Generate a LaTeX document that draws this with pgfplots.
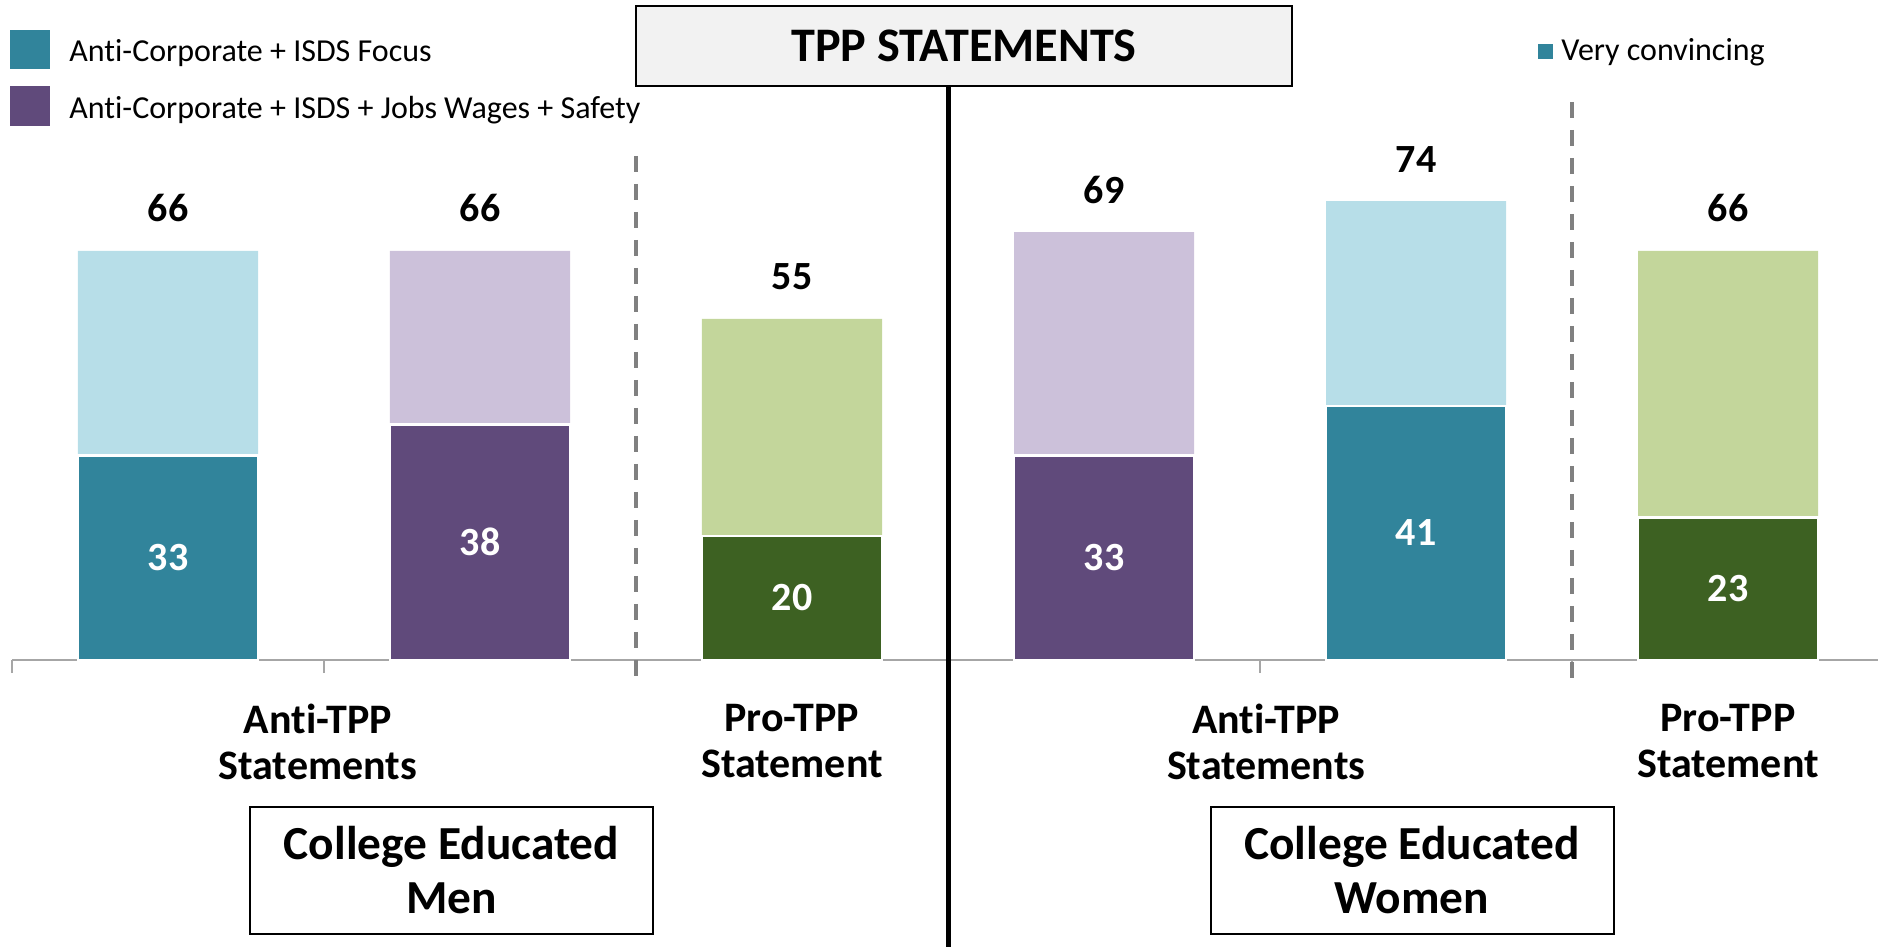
\documentclass[border=0pt]{standalone}
\usepackage{fontspec}
\setmainfont{Carlito}[Ligatures={NoCommon}]
\usepackage{pgfplots}
\pgfplotsset{compat=1.18}
\definecolor{teal1}{HTML}{31849B}
\definecolor{lblue}{HTML}{B7DEE8}
\definecolor{purp}{HTML}{604A7B}
\definecolor{lpurp}{HTML}{CCC1DA}
\definecolor{dgreen}{HTML}{3D6122}
\definecolor{lgreen}{HTML}{C3D69B}
\definecolor{axgray}{HTML}{A6A6A6}
\definecolor{dashgray}{HTML}{808080}
\definecolor{boxgray}{HTML}{F2F2F2}
\begin{document}
\begin{tikzpicture}
\begin{axis}[
  at={(0,0)}, anchor=south west,
  x=156pt, y=3.1pt,
  xmin=-0.5, xmax=5.5, ymin=0, ymax=100,
  axis y line=none, axis x line*=bottom,
  axis line style={draw=axgray, line width=1pt},
  /pgf/number format/assume math mode=true,
  xtick={0.48,2,3.52,5},
  xticklabels={{Anti-TPP\\Statements},{Pro-TPP\\Statement},{Anti-TPP\\Statements},{Pro-TPP\\Statement}},
  major tick length=0pt,
  xticklabel style={align=center, font=\fontsize{21}{23}\selectfont\bfseries, anchor=north, inner sep=0pt, yshift=-21.8pt},
  extra x ticks={-0.5,0.5,1.5,3.5,4.5},
  extra x tick labels={},
  extra x tick style={tick align=outside, major tick length=6.5pt, tick style={draw=axgray, line width=1pt}},
  clip=false,
  totlab/.style={nodes near coords, nodes near coords style={anchor=base, inner sep=0pt, yshift=14.5pt, black, font=\fontsize{20}{24}\selectfont\bfseries}},
]
% light (total) bars
\addplot[ybar, bar width=0.577, bar shift=0pt, fill=lblue, draw=none, totlab] coordinates {(0,66) (4,74)};
\addplot[ybar, bar width=0.577, bar shift=0pt, fill=lpurp, draw=none, totlab] coordinates {(1,66) (3,69)};
\addplot[ybar, bar width=0.577, bar shift=0pt, fill=lgreen, draw=none, totlab] coordinates {(2,55) (5,66)};
% dark (very convincing) bars
\addplot[ybar, bar width=0.577, bar shift=0pt, fill=teal1, draw=white, line width=1.2pt] coordinates {(0,33) (4,41)};
\addplot[ybar, bar width=0.577, bar shift=0pt, fill=purp, draw=white, line width=1.2pt] coordinates {(1,38) (3,33)};
\addplot[ybar, bar width=0.577, bar shift=0pt, fill=dgreen, draw=white, line width=1.2pt] coordinates {(2,20) (5,23)};
% inner labels
\addplot[draw=none, mark=none, nodes near coords, point meta=explicit symbolic,
  nodes near coords style={anchor=center, inner sep=0pt, white, font=\fontsize{20}{24}\selectfont\bfseries}]
  coordinates {(0,16.5)[33] (1,19)[38] (2,10)[20] (3,16.5)[33] (4,20.5)[41] (5,11.5)[23]};
\end{axis}
% separators
\draw[dashgray, line width=2pt, dash pattern=on 8pt off 6pt] (312pt,252pt) -- (312pt,-9pt);
\draw[dashgray, line width=2pt, dash pattern=on 8pt off 6pt] (780pt,279pt) -- (780pt,-9pt);
\draw[black, line width=2.5pt] (468pt,287pt) -- (468pt,-145pt);
% title
\node[draw=black, line width=1pt, fill=boxgray, minimum width=328pt, minimum height=40pt, inner sep=0pt,
  font=\fontsize{24.1}{28}\selectfont\bfseries] at (476pt,307pt) {TPP STATEMENTS};
% legend left
\fill[teal1] (-1pt,295.5pt) rectangle (19pt,315pt);
\fill[purp] (-1pt,267pt) rectangle (19pt,287pt);
\node[anchor=base west, inner sep=0pt, font=\fontsize{16}{19}\selectfont] at (28.5pt,299pt) {Anti-Corporate + ISDS Focus};
\node[anchor=base west, inner sep=0pt, font=\fontsize{16}{19}\selectfont] at (28.5pt,270.7pt) {Anti-Corporate + ISDS + Jobs Wages + Safety};
% legend right
\fill[teal1] (763pt,300.5pt) rectangle (770.5pt,308pt);
\node[anchor=base west, inner sep=0pt, font=\fontsize{16}{19}\selectfont] at (774.5pt,299.5pt) {Very convincing};
% group boxes
\node[draw=black, line width=1pt, minimum width=201.5pt, minimum height=63.5pt, inner sep=0pt, align=center,
  font=\fontsize{23.7}{27}\selectfont\bfseries] at (219.75pt,-105pt) {College Educated\\Men};
\node[draw=black, line width=1pt, minimum width=201.5pt, minimum height=63.5pt, inner sep=0pt, align=center,
  font=\fontsize{23.7}{27}\selectfont\bfseries] at (700pt,-105pt) {College Educated\\Women};
\pgfresetboundingbox
\path[use as bounding box] (-6pt,-143.5pt) rectangle (933pt,330pt);
\end{tikzpicture}
\end{document}
